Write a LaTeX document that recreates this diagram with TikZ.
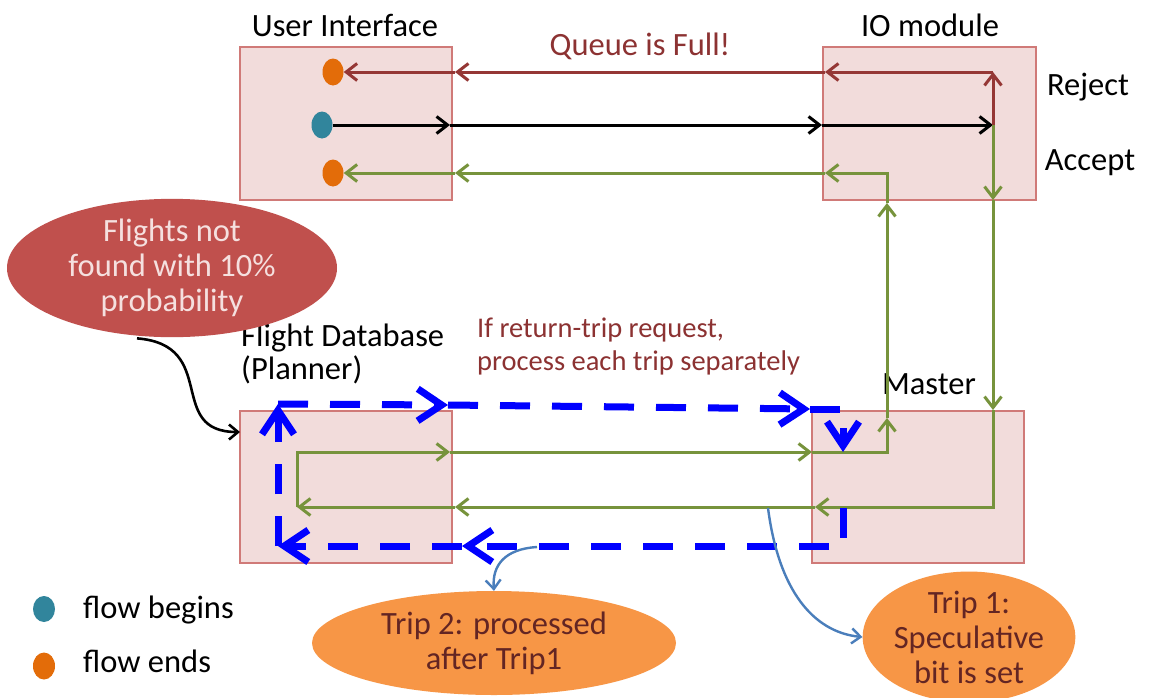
\documentclass[tikz,border=0pt]{standalone}
\usepackage{fontspec}
\setmainfont{Carlito}
\usetikzlibrary{arrows.meta,shapes.geometric}
\definecolor{boxfill}{HTML}{F2DCDB}
\definecolor{boxdraw}{HTML}{D07A78}
\definecolor{grn}{HTML}{77933C}
\definecolor{dred}{HTML}{953735}
\definecolor{bblue}{HTML}{0000FF}
\definecolor{sblue}{HTML}{4A7EBB}
\definecolor{tealdot}{HTML}{31859C}
\definecolor{orangedot}{HTML}{E36C09}
\definecolor{redell}{HTML}{C0504D}
\definecolor{orell}{HTML}{F79646}
\definecolor{pinktxt}{HTML}{F5E0DF}
\definecolor{maroontxt}{HTML}{632523}
\definecolor{labred}{HTML}{8C3232}
\begin{document}
\begin{tikzpicture}[x=1pt,y=-1pt,
  box/.style={draw=boxdraw,fill=boxfill,line width=1.8pt},
  lbl/.style={font=\fontsize{32.5}{33.5}\selectfont,inner sep=0pt},
  dot/.style={ellipse,minimum width=21pt,minimum height=27pt,inner sep=0pt},
  tipg/.style={-{Straight Barb[length=11pt,width=17pt]}},
  gline/.style={grn,line width=3pt},
  rline/.style={dred,line width=3pt},
  kline/.style={black,line width=3pt},
  bdash/.style={bblue,line width=7pt,dash pattern=on 30pt off 22pt},
  tipb/.style={-{Straight Barb[length=24pt,width=32pt]}},
  callout/.style={sblue,line width=2.4pt,-{Straight Barb[length=9pt,width=15pt]}},
  bubble/.style={ellipse,inner sep=0pt,align=center,font=\fontsize{32.5}{35}\selectfont}
]
\useasboundingbox (0,0) rectangle (1149,697);
\fill[white] (0,0) rectangle (1149,697);

% boxes
\draw[box] (240,47) rectangle (452,200);
\draw[box] (823,47) rectangle (1036,200);
\draw[box] (240,411) rectangle (452,563);
\draw[box] (812,411) rectangle (1024,563);

% labels
\node[lbl] (ui) at (345,25) {User Interface};
\node[lbl] (io) at (930,25) {IO module};
\node[lbl,text=labred] (qf) at (640,46) {Queue is Full!};
\node[lbl] (rej) at (1088,87) {Reject};
\node[lbl] (acc) at (1090,163) {Accept};
\node[lbl] (mast) at (929,384) {Master};
\node[lbl,anchor=west,align=left] (fdb) at (241,354) {Flight Database\\(Planner)};
\node[lbl,anchor=west,align=left,text=labred,font=\fontsize{28.5}{33}\selectfont] (ret) at (477,346) {If return-trip request,\\process each trip separately};

% dots
\node[dot,fill=orangedot] (d1) at (333,72) {};
\node[dot,fill=tealdot] (d2) at (322,125) {};
\node[dot,fill=orangedot] (d3) at (333,173) {};

% coordinates
\coordinate (k1) at (450,125);
\coordinate (k2) at (822,125);
\coordinate (k3) at (993,125);
\coordinate (r1) at (993,72);
\coordinate (r2) at (825,72);
\coordinate (r3) at (455,72);
\coordinate (g1) at (993,200);
\coordinate (g2) at (993,410);
\coordinate (g3) at (993,507);
\coordinate (g4) at (815,507);
\coordinate (g5) at (455,507);
\coordinate (g6) at (297,507);
\coordinate (g7) at (297,452);
\coordinate (g8) at (450,452);
\coordinate (g9) at (812,452);
\coordinate (g10) at (887,452);
\coordinate (g11) at (887,418);
\coordinate (g12) at (887,203);
\coordinate (g13) at (887,173);
\coordinate (g14) at (825,173);
\coordinate (g15) at (455,173);

% black request
\draw[kline,tipg] (d2.east) -- (k1);
\draw[kline,tipg] (k1) -- (k2);
\draw[kline,tipg] (k2) -- (k3);
% reject
\draw[rline,tipg] (k3) -- (r1);
\draw[rline,tipg] (r1) -- (r2);
\draw[rline,tipg] (r2) -- (r3);
\draw[rline,tipg] (r3) -- (d1.east);
% accept
\draw[gline,tipg] (k3) -- (g1);
\draw[gline,tipg] (g1) -- (g2);
\draw[gline,tipg] (g2) -- (g3) -- (g4);
\draw[gline,tipg] (g4) -- (g5);
\draw[gline,tipg] (g5) -- (g6);
\draw[gline,tipg] (g6) -- (g7) -- (g8);
\draw[gline,tipg] (g8) -- (g9);
\draw[gline,tipg] (g9) -- (g10) -- (g11);
\draw[gline,tipg] (g11) -- (g12);
\draw[gline,tipg] (g12) -- (g13) -- (g14);
\draw[gline,tipg] (g14) -- (g15);
\draw[gline,tipg] (g15) -- (d3.east);

% blue dashed trip loop
\coordinate (b1) at (843,508);
\coordinate (b2) at (843,546);
\coordinate (b3) at (462,546);
\coordinate (b4) at (278,546);
\coordinate (b5) at (278,404);
\coordinate (b6) at (448,405);
\coordinate (b7) at (810,409);
\coordinate (b8) at (843,409);
\coordinate (b9) at (843,452);
\draw[bdash,tipb] (b1) -- (b2) -- (b3);
\draw[bdash,tipb] (b3) -- (b4);
\draw[bdash,tipb] (b4) -- (b5);
\draw[bdash,tipb] (b5) -- (b6);
\draw[bdash,tipb] (b6) -- (b7);
\draw[bdash,tipb] (b7) -- (b8) -- (b9);

% bubbles
\node[bubble,fill=redell,text=pinktxt,minimum width=330pt,minimum height=128pt] (fnf) at (172,268) {Flights not\\found with 10\%\\probability};
\node[bubble,fill=orell,text=maroontxt,minimum width=364pt,minimum height=104pt] (t2) at (494,643) {Trip 2: processed\\after Trip1};
\node[bubble,fill=orell,text=maroontxt,minimum width=212pt,minimum height=124pt] (t1) at (969,637) {Trip 1:\\Speculative\\bit is set};

% callout connectors
\coordinate (fdbin) at (240,432);
\draw[black,line width=2.6pt,-{Straight Barb[length=9pt,width=15pt]}] (fnf.south) ++(-35,1) coordinate (fs) (fs) .. controls (220,345) and (165,432) .. (fdbin);
\coordinate (c1) at (537,547);
\draw[callout] (c1) .. controls (505,549) and (492,565) .. (t2.north);
\coordinate (c2) at (768,508);
\draw[callout] (c2) .. controls (780,600) and (820,633) .. (t1.west);

% legend
\node[dot,fill=tealdot,minimum height=26pt,minimum width=22pt] (lt) at (44,609) {};
\node[dot,fill=orangedot,minimum height=27pt,minimum width=22pt] (lo) at (44,666) {};
\node[lbl,anchor=west] (lbt) at (83,610) {flow begins};
\node[lbl,anchor=west] (lbo) at (83,661) {flow ends};
\end{tikzpicture}
\end{document}
